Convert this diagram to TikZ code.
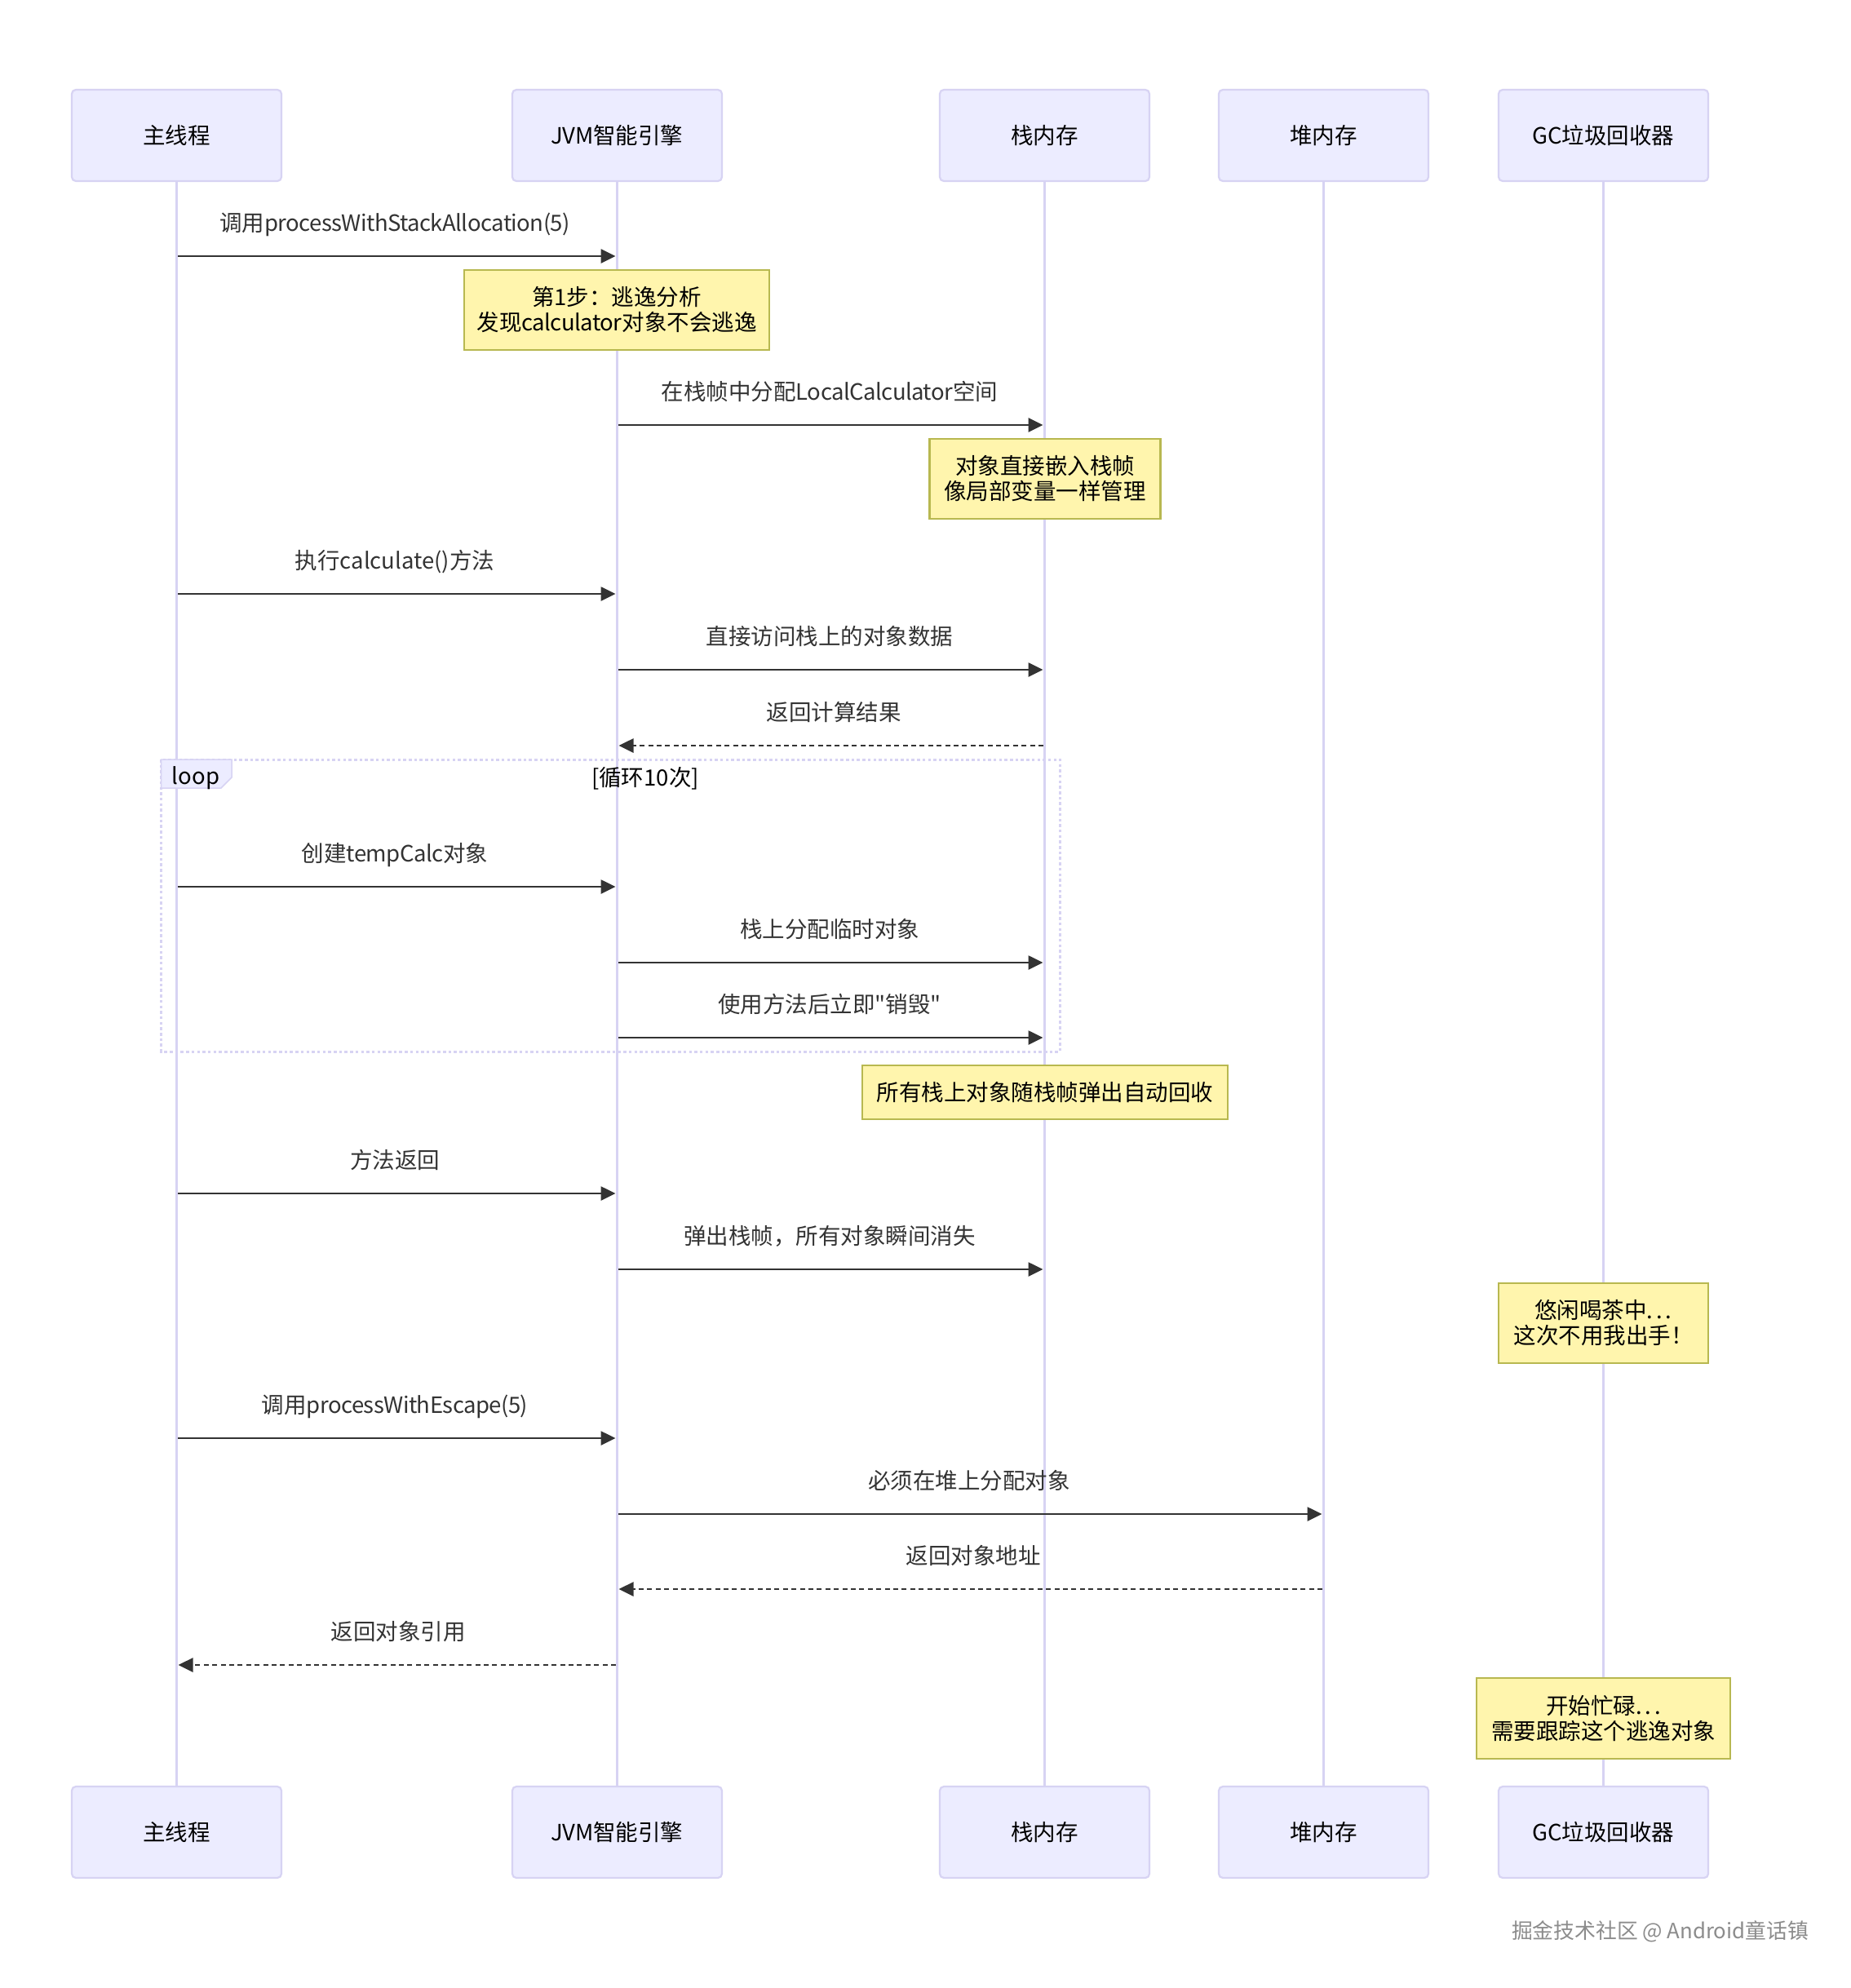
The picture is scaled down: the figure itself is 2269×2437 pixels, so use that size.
\documentclass[tikz,border=0pt]{standalone}
\usepackage{fontspec}
\setmainfont{Noto Sans CJK SC}
\newfontfamily\plainfam{Noto Sans CJK SC}
\usetikzlibrary{arrows.meta}
\definecolor{actfill}{HTML}{ECECFF}
\definecolor{actline}{HTML}{D7D3F3}
\definecolor{notefill}{HTML}{FFF5AD}
\definecolor{noteline}{HTML}{B8B850}
\definecolor{ink}{HTML}{333333}
\newcommand{\tight}[1]{{\addfontfeature{LetterSpace=-2}#1}}
\newcommand{\wdots}{{\addfontfeature{LetterSpace=14}...}}
\tikzset{
  actor/.style={draw=actline,fill=actfill,line width=2.2pt,rounded corners=5pt,minimum width=257pt,minimum height=112pt,inner sep=0pt,text=black,font=\fontsize{27.5}{31}\selectfont},
  life/.style={draw=actline,line width=3.8pt},
  msg/.style={draw=ink,line width=2.7pt,-{Triangle[length=18pt,width=17pt]},shorten >=2pt,shorten <=1.5pt},
  ret/.style={msg,dash pattern=on 6pt off 4.4pt},
  mlabel/.style={text=ink,inner sep=0pt,text height=20pt,text depth=0pt,font=\fontsize{27.5}{31}\selectfont},
  notebox/.style={draw=noteline,fill=notefill,line width=2.4pt,inner sep=0pt,align=center,text=black,font=\fontsize{27.5}{31}\selectfont},
  loopframe/.style={draw=actline,line width=3pt,dash pattern=on 3.5pt off 3.2pt},
  looptag/.style={draw=actline,fill=actfill,line width=1.5pt},
}
% name, from actor, to actor, y, label x, label, style
\newcommand{\seqmsg}[7]{%
  \coordinate (#1s) at (#2 |- 0,#4);
  \coordinate (#1e) at (#3 |- 0,#4);
  \draw[#7] (#1s) -- (#1e);
  \node[mlabel] (#1l) at (#5,#4-41) {#6};
}
\begin{document}
\begin{tikzpicture}[x=1pt,y=-1pt]
\useasboundingbox (0,0) rectangle (2269,2437);
\fill[white] (0,0) rectangle (2269,2437);
% actors
\foreach \n/\x/\t in {a/216.5/主线程,b/756.5/\tight{JVM}智能引擎,c/1280.5/栈内存,d/1622.5/堆内存,e/1965.5/\tight{GC}垃圾回收器}{
  \node[actor] (\n top) at (\x,166) {\t};
  \node[actor] (\n bot) at (\x,2246) {\t};
  \draw[life] (\n top.south) -- (\n bot.north);
}
% loop frame
\coordinate (lf1) at (197.5,931);
\coordinate (lf2) at (1299.5,1289);
\draw[loopframe] (lf1) rectangle (lf2);
\draw[looptag] (197.5,931) -- (284,931) -- (284,953) -- (271,966) -- (197.5,966) -- cycle;
\node[mlabel,text=black] (looplabel) at (240,951) {loop};
\node[mlabel,text=black] (loopcond) at (791,953) {[循环10次]};
% messages
\seqmsg{m1}{atop}{btop}{314}{484}{调用\tight{processWithStackAllocation(5)}}{msg}
\seqmsg{m2}{btop}{ctop}{521}{1017}{在栈帧中分配\tight{LocalCalculator}空间}{msg}
\seqmsg{m3}{atop}{btop}{728}{484}{执行calculate()方法}{msg}
\seqmsg{m4}{btop}{ctop}{821}{1017}{直接访问栈上的对象数据}{msg}
\seqmsg{m5}{ctop}{btop}{914}{1022}{返回计算结果}{ret}
\seqmsg{m6}{atop}{btop}{1087}{484}{创建\tight{tempCalc}对象}{msg}
\seqmsg{m7}{btop}{ctop}{1180}{1017}{栈上分配临时对象}{msg}
\seqmsg{m8}{btop}{ctop}{1272}{1017}{使用方法后立即{\plainfam\tight{"}}销毁{\plainfam\tight{"}}}{msg}
\seqmsg{m9}{atop}{btop}{1463}{484}{方法返回}{msg}
\seqmsg{m10}{btop}{ctop}{1556}{1017}{弹出栈帧，所有对象瞬间消失}{msg}
\seqmsg{m11}{atop}{btop}{1763}{484}{调用\tight{processWithEscape(5)}}{msg}
\seqmsg{m12}{btop}{dtop}{1856}{1188}{必须在堆上分配对象}{msg}
\seqmsg{m13}{dtop}{btop}{1948}{1193}{返回对象地址}{ret}
\seqmsg{m14}{btop}{atop}{2041}{488}{返回对象引用}{ret}
% notes
\node[notebox,minimum width=374pt,minimum height=98pt] (n1) at (756,380) {第1步：逃逸分析\\发现\tight{calculator}对象不会逃逸};
\node[notebox,minimum width=283pt,minimum height=98pt] (n2) at (1281,587) {对象直接嵌入栈帧\\像局部变量一样管理};
\node[notebox,minimum width=448pt,minimum height=66pt] (n3) at (1281,1339) {所有栈上对象随栈帧弹出自动回收};
\node[notebox,minimum width=257pt,minimum height=98pt] (n4) at (1965.5,1622) {悠闲喝茶中\wdots\\这次不用我出手！};
\node[notebox,minimum width=311pt,minimum height=99pt] (n5) at (1965.5,2106.5) {开始忙碌\wdots\\需要跟踪这个逃逸对象};
% watermark
\node[inner sep=0pt,text=black!45,font=\fontsize{25.8}{30}\selectfont] (wm) at (2035,2368) {掘金技术社区 @ Android童话镇};
\end{tikzpicture}
\end{document}
